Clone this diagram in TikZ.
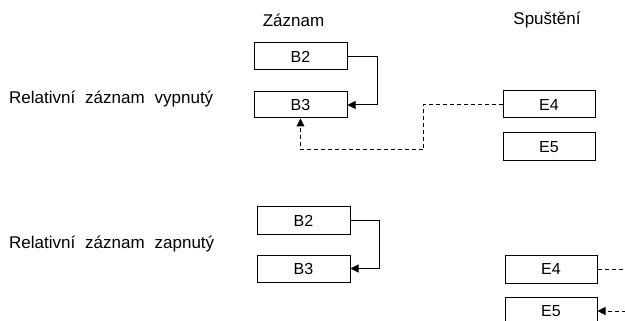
\documentclass[tikz,border=0pt]{standalone}
\usepackage{fontspec}
\setmainfont{Liberation Sans}
\newfontfamily\lblfont{Liberation Sans}[WordSpace=2.1]
\usetikzlibrary{arrows.meta}
\begin{document}
\begin{tikzpicture}[x=1pt,y=-1pt,
  box/.style={draw,line width=1pt,rectangle,minimum width=93pt,minimum height=27pt,inner sep=0pt,font=\fontsize{16}{19}\selectfont},
  lbl/.style={inner sep=0pt,font=\lblfont\fontsize{17}{20}\selectfont},
  conn/.style={line width=1pt,-{Triangle[length=8pt,width=8pt]}},
  dconn/.style={line width=1pt,dash pattern=on 4pt off 3pt},
  tip/.style={-{Triangle[length=8pt,width=8pt]}}]
\useasboundingbox (0,0) rectangle (625,321);
\clip (0,0) rectangle (625,321);
% headers
\node[lbl] (hz) at (293.5,20) {Záznam};
\node[lbl] (hs) at (547,20) {Spuštění};
\node[lbl,anchor=west] (l1) at (9,99) {Relativní záznam vypnutý};
\node[lbl,anchor=west] (l2) at (9,244) {Relativní záznam zapnutý};
% top section
\node[box] (tB2) at (300.5,56.5) {B2};
\node[box,minimum height=26pt] (tB3) at (300.5,105) {B3};
\node[box,minimum width=92pt] (tE4) at (549,104.5) {E4};
\node[box,minimum width=92pt,minimum height=28pt] (tE5) at (549,147) {E5};
% bottom section
\node[box] (bB2) at (303.5,220.5) {B2};
\node[box] (bB3) at (303.5,268.5) {B3};
\node[box,minimum width=92pt,minimum height=28pt] (bE4) at (551,269) {E4};
\node[box,minimum width=92pt,minimum height=28pt] (bE5) at (551,311) {E5};
% connectors
\draw[conn] (tB2.east) -- ++(30,0) |- (tB3.east);
\coordinate (c1) at (423,150);
\draw[dconn] (tE4.west) -| (c1);
\draw[dconn,tip] (c1) -| (tB3.south);
\draw[conn] (bB2.east) -- ++(29,0) |- (bB3.east);
\coordinate (r1) at (626,269);
\coordinate (r2) at (626,311);
\draw[dconn] (bE4.east) -- (r1);
\draw[dconn,tip] (r2) -- (bE5.east);
\end{tikzpicture}
\end{document}
